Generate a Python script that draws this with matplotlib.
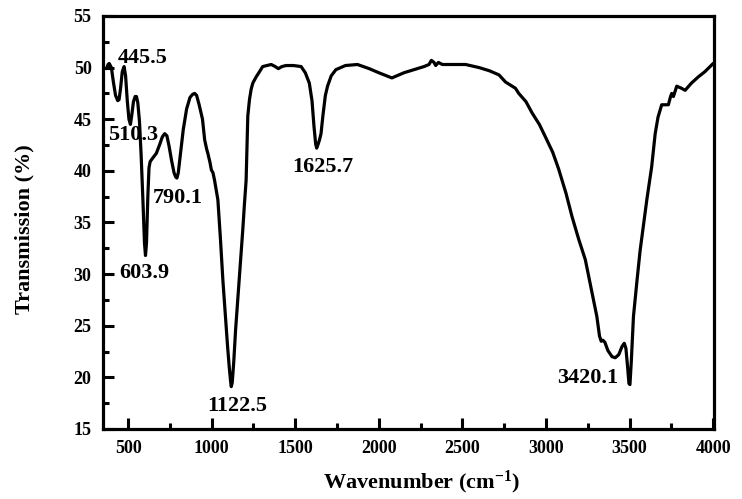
import matplotlib
matplotlib.use("Agg")
import matplotlib.pyplot as plt
from matplotlib.ticker import MultipleLocator

plt.rcParams['font.family'] = ['Liberation Serif', 'DejaVu Serif']
plt.rcParams['font.weight'] = 'bold'
plt.rcParams['mathtext.fontset'] = 'custom'
plt.rcParams['mathtext.rm'] = 'Liberation Serif'
plt.rcParams['mathtext.bf'] = 'Liberation Serif:bold'
plt.rcParams['mathtext.default'] = 'bf'

wavenumber = [371, 380, 387, 400, 412, 425, 438, 446, 455, 465, 476, 485, 495, 505, 514, 522,
              532, 542, 550, 558, 568, 578, 589, 598, 604, 610, 618, 625, 632, 650, 669, 690,
              705, 719, 732, 745, 760, 775, 785, 792, 800, 812, 830, 850, 870, 885, 898, 910,
              925, 945, 958, 970, 977, 990, 998, 1008, 1017, 1037, 1052, 1067, 1080, 1095,
              1105, 1112, 1117, 1123, 1132, 1143, 1165, 1186, 1196, 1206, 1216, 1226, 1236,
              1246, 1266, 1286, 1305, 1330, 1356, 1380, 1399, 1420, 1445, 1490, 1535, 1560,
              1584, 1600, 1612, 1622, 1628, 1635, 1645, 1654, 1665, 1680, 1693, 1715, 1743,
              1800, 1872, 1942, 2000, 2078, 2150, 2230, 2270, 2300, 2314, 2330, 2340, 2356,
              2380, 2519, 2600, 2660, 2718, 2758, 2817, 2837, 2880, 2917, 2960, 2996, 3040,
              3075, 3120, 3155, 3195, 3235, 3270, 3304, 3320, 3330, 3340, 3352, 3370, 3395,
              3414, 3435, 3455, 3468, 3478, 3488, 3496, 3502, 3510, 3523, 3545, 3563, 3603,
              3632, 3653, 3670, 3683, 3692, 3732, 3745, 3752, 3762, 3782, 3810, 3832, 3870,
              3911, 3950, 3981, 4000]
transmission = [49.9, 50.3, 50.4, 50.0, 48.6, 47.3, 46.8, 46.9, 48.0, 49.6, 50.1, 49.2, 46.8,
                45.0, 44.5, 45.4, 46.7, 47.2, 47.2, 46.6, 44.8, 41.5, 37.0, 33.0, 31.8, 33.0,
                37.5, 40.3, 40.9, 41.3, 41.7, 42.6, 43.3, 43.6, 43.4, 42.4, 41.0, 39.8, 39.4,
                39.3, 39.8, 41.5, 44.0, 46.0, 47.1, 47.4, 47.5, 47.3, 46.4, 45.0, 43.0, 42.1,
                41.7, 40.8, 40.1, 39.8, 39.1, 37.2, 33.5, 29.4, 26.4, 23.0, 21.0, 19.8, 19.1,
                19.5, 21.5, 24.6, 29.5, 34.3, 36.8, 39.1, 45.3, 46.9, 47.9, 48.5, 49.1, 49.6,
                50.1, 50.2, 50.3, 50.1, 49.9, 50.1, 50.2, 50.2, 50.1, 49.5, 48.5, 46.8, 44.3,
                42.6, 42.2, 42.5, 43.0, 43.6, 45.3, 47.3, 48.2, 49.2, 49.8, 50.2, 50.3, 49.9,
                49.5, 49.0, 49.5, 49.9, 50.1, 50.3, 50.7, 50.5, 50.2, 50.5, 50.3, 50.3, 50.0,
                49.7, 49.3, 48.6, 48.0, 47.5, 46.7, 45.6, 44.5, 43.3, 41.8, 40.2, 37.8, 35.6,
                33.4, 31.4, 28.6, 25.9, 24.0, 23.5, 23.6, 23.4, 22.6, 22.0, 21.9, 22.2, 23.0,
                23.3, 22.8, 21.0, 19.4, 19.3, 21.5, 25.9, 29.5, 32.3, 37.2, 40.4, 43.6, 45.2,
                45.9, 46.4, 46.4, 47.2, 47.5, 47.2, 48.2, 48.0, 47.8, 48.5, 49.1, 49.6, 50.1,
                50.4]

peak_labels = ["445.5", "510.3", "603.9", "790.1", "1122.5", "1625.7", "3420.1"]
label_x = [585, 533, 598, 795, 1155, 1662, 3249]
label_y = [50.9, 43.5, 30.1, 37.4, 17.2, 40.4, 19.9]

fig = plt.figure(figsize=(7.42, 4.99), dpi=100)
ax = fig.add_axes([0.1384, 0.1403, 0.9623 - 0.1384, 0.968 - 0.1403])

ax.plot(wavenumber, transmission, color='black', lw=2.3,
        solid_joinstyle='round', solid_capstyle='round')

for t, x, y in zip(peak_labels, label_x, label_y):
    ax.text(x, y, t, ha='center', va='center', fontsize=16, fontweight='bold')

ax.set_xlim(348, 4005)
ax.set_ylim(15, 55)
ax.xaxis.set_major_locator(MultipleLocator(500))
ax.xaxis.set_minor_locator(MultipleLocator(250))
ax.yaxis.set_major_locator(MultipleLocator(5))
ax.yaxis.set_minor_locator(MultipleLocator(2.5))
ax.tick_params(which='both', direction='in', top=False, right=False, width=2.2)
ax.tick_params(which='major', length=8, pad=8, labelsize=13)
ax.tick_params(which='minor', length=4)
for s in ax.spines.values():
    s.set_linewidth(2.3)

ax.set_xlabel('Wavenumber (cm$^{-1}$)', fontsize=16, fontweight='bold')
ax.set_ylabel('Transmission (%)', fontsize=16, fontweight='bold')
ax.xaxis.set_label_coords(0.521, -0.097)
ax.yaxis.set_label_coords(-0.112, 0.484)

fig.savefig('out.png', dpi=100)
